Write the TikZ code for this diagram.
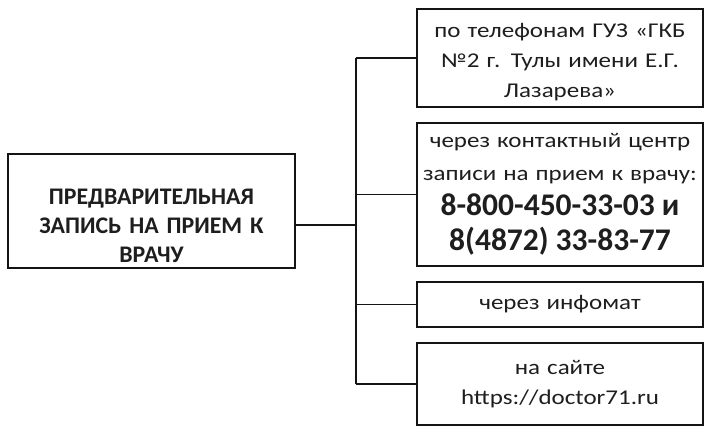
\documentclass[tikz,border=0pt]{standalone}
\usepackage{fontspec}
\setmainfont{Carlito}[UprightFeatures={FakeStretch=1.19}]
\usepackage{tikz}
\usetikzlibrary{positioning,calc}
\definecolor{zpedge}{RGB}{20,20,20}
\definecolor{zpink}{RGB}{30,30,30}
\tikzset{
  zpbox/.style={
    draw=zpedge, line width=1.2pt, fill=white,
    align=center, inner sep=2pt, text=zpink, text width=280pt,
    font=\fontsize{21}{30}\selectfont, minimum width=286pt
  },
  mainbox/.style={zpbox, minimum width=287pt, minimum height=114pt,
    font=\bfseries\fontsize{23.8}{29}\selectfont},
  ln/.style={draw=zpedge, line width=1.2pt}
}
\newcommand\zpbig{\bfseries\fontsize{31.5}{35}\selectfont}
\begin{document}
\begin{tikzpicture}[x=1pt,y=-1pt]
  \useasboundingbox[fill=white] (0,0) rectangle (716,444);
  % left box and the four ways
  \node[mainbox] (rec) at (151.5,211)
    {\rule{0pt}{45pt}ПРЕДВАРИТЕЛЬНАЯ\\ЗАПИСЬ НА ПРИЕМ К\\ВРАЧУ};
  \node[zpbox, minimum height=98pt] (tel) at (560,58)
    {\rule{0pt}{22pt}по телефонам ГУЗ «ГКБ\\№2 г. Тулы имени Е.Г.\\Лазарева»};
  \node[zpbox, minimum height=143pt] (call) at (560,194.5)
    {через контактный центр\\[3pt]записи на прием к врачу:\par
     \zpbig 8-800-450-33-03 и\\8(4872) 33-83-77\par};
  \node[zpbox, minimum height=45pt] (kiosk) at (560,304.5) {через инфомат};
  \node[zpbox, minimum height=82pt] (web) at (560,384)
    {на сайте\\https://doctor71.ru};
  % connectors
  \coordinate (hub) at (356,225);
  \draw[ln] (hub -| rec.east) -- (hub);
  \draw[ln] (tel.west -| hub) -- (web.west -| hub);
  \foreach \b in {tel,call,kiosk,web}
    \draw[ln] (\b.west -| hub) -- (\b.west);
\end{tikzpicture}
\end{document}
